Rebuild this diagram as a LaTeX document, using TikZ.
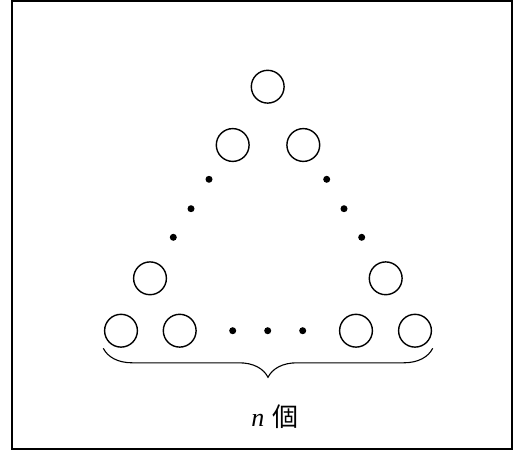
\documentclass[tikz,border=0pt]{standalone}
\usepackage{fontspec}
\newfontfamily\jafont{Noto Sans CJK JP}
\newfontfamily\tmfont{Liberation Serif}
\usetikzlibrary{positioning, decorations.pathreplacing}

\begin{document}
\begin{tikzpicture}[x=0.5pt, y=-0.5pt, line width=0.7pt,
  ball/.style={draw, circle, inner sep=0pt, minimum size=16.4pt},
  dot/.style={fill, circle, inner sep=0pt, minimum size=3.5pt}]
  \useasboundingbox (0,0) rectangle (514,450);
  \draw[line width=1pt] (12,1) rectangle (512,449);
  % triangle of balls
  \node[ball] (t) at (267.7,86.7) {};
  \node[ball] (l2) at (232.7,145) {};
  \node[ball] (r2) at (303.3,145) {};
  \node[ball] (l4) at (150,278.3) {};
  \node[ball] (r4) at (385.7,278.3) {};
  \node[ball] (b1) at (121,330.7) {};
  \node[ball] (b2) at (179.7,330.7) {};
  \node[ball] (b3) at (356,330.7) {};
  \node[ball] (b4) at (415,330.7) {};
  % dots
  \foreach \x/\y [count=\i] in {209/179.3, 191/208.7, 173.3/237.3}
    \node[dot] (dl\i) at (\x,\y) {};
  \foreach \x/\y [count=\i] in {326.7/179.3, 344/208.7, 361.7/237.3}
    \node[dot] (dr\i) at (\x,\y) {};
  \foreach \x [count=\i] in {232.7, 267.7, 302.7}
    \node[dot] (db\i) at (\x,330.7) {};
  % brace
  \coordinate (bl) at (103.3,348.3);
  \coordinate (br) at (432.7,348.3);
  \draw[line width=0.55pt, decorate, decoration={brace, mirror, amplitude=14.5pt}] (bl) -- (br);
  \node[font=\fontsize{13}{15}\selectfont] (lab) at (275,416.7) {{\tmfont\itshape n} {\jafont 個}};
\end{tikzpicture}
\end{document}
